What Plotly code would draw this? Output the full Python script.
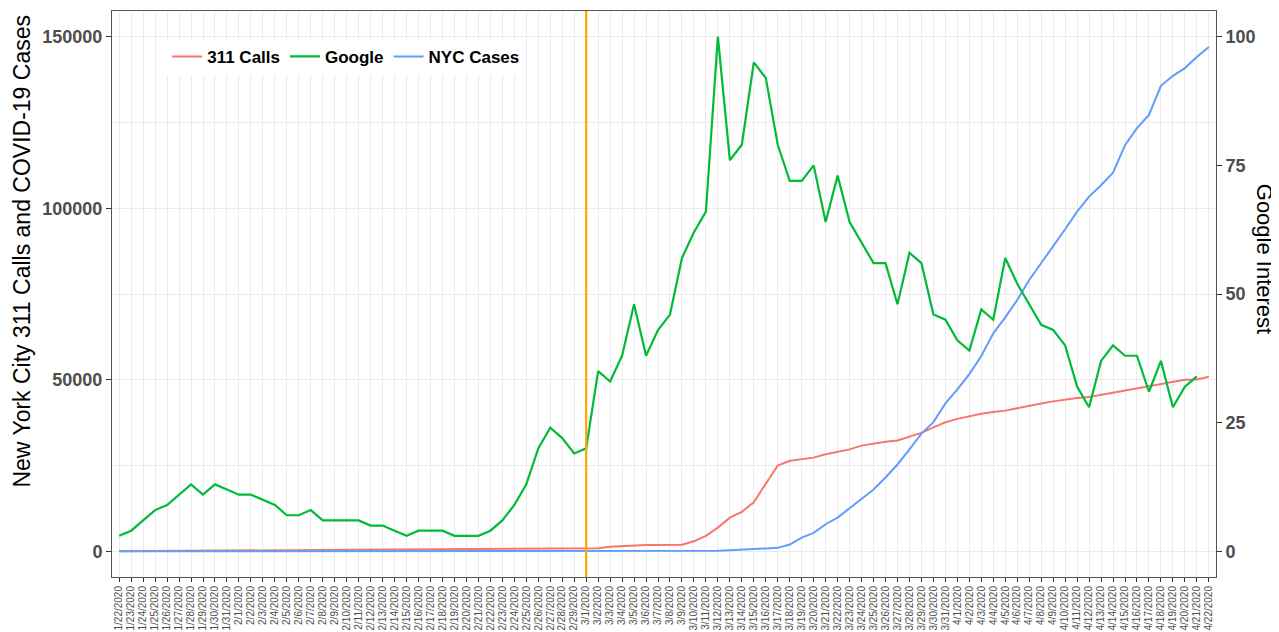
import plotly.graph_objects as go

# ---------------- data ----------------
dates = (
    [f"1/{d}/2020" for d in range(22, 32)]
    + [f"2/{d}/2020" for d in range(1, 30)]
    + [f"3/{d}/2020" for d in range(1, 32)]
    + [f"4/{d}/2020" for d in range(1, 23)]
)

calls_311 = [
    10, 30, 50, 70, 90, 120, 150, 170, 190, 220,
    250, 270, 300, 320, 340, 370, 390, 410, 430, 450,
    470, 480, 500, 520, 540, 560, 580, 600, 620, 640,
    650, 670, 690, 710, 730, 750, 770, 790, 800,
    820, 900, 1300, 1500, 1800, 1850, 1850, 1850, 1900, 2900,
    4500, 6900, 9800, 11500, 14300, 19700, 25000, 26400, 26800, 27300,
    28300, 29000, 29700, 30800, 31400, 31900, 32300, 33500, 34500, 36100,
    37600, 38600, 39400, 40100, 40600, 41000, 41700, 42500, 43100, 43700,
    44300, 44700, 45000, 45600, 46200, 46800, 47400, 48000, 48700, 49200,
    50000, 50100, 50900,
]

google = [
    3, 4, 6, 8, 9, 11, 13, 11, 13, 12,
    11, 11, 10, 9, 7, 7, 8, 6, 6, 6,
    6, 5, 5, 4, 3, 4, 4, 4, 3, 3,
    3, 4, 6, 9, 13, 20, 24, 22, 19, 20,
    35, 33, 38, 48, 38, 43, 46, 57, 62, 66,
    100, 76, 79, 95, 92, 79, 72, 72, 75, 64,
    73, 64, 60, 56, 56, 48, 58, 56, 46, 45,
    41, 39, 47, 45, 57, 52, 48, 44, 43, 40,
    32, 28, 37, 40, 38, 38, 31, 37, 28, 32,
    34, None,
]

nyc_cases = (
    [0] * 39
    + [1, 1, 2, 4, 6, 11, 19, 25, 36, 53,
       95, 154, 269, 463, 613, 923, 1000, 1950, 4000, 5350,
       7880, 9830, 12550, 15170, 18000, 21500, 25300, 29700, 34300, 37640,
       43100, 47180, 51650, 56900, 63520, 68190, 73240, 79080, 83950, 88800,
       93870, 99010, 103390, 106700, 110390, 118380, 123340, 127220, 135690, 138600,
       140850, 144060, 146980]
)

event_date = "3/1/2020"

left_ticks = [0, 50000, 100000, 150000]
left_minor = [25000, 75000, 125000]
right_ticks = [0, 25, 50, 75, 100]

# ---------------- figure ----------------
LEFT_MAX = 150000
RIGHT_MAX = 100
pad = 0.05 * LEFT_MAX
left_range = [-pad, LEFT_MAX + pad]
right_range = [v * RIGHT_MAX / LEFT_MAX for v in left_range]

FONT = "Liberation Sans, Arial, sans-serif"
GRID = "#EBEBEB"
TICKC = "#4D4D4D"

fig = go.Figure()
fig.add_trace(go.Scatter(x=dates, y=calls_311, name="311 Calls", mode="lines",
                         line=dict(color="#F8766D", width=2)))
fig.add_trace(go.Scatter(x=dates, y=google, name="Google", mode="lines", yaxis="y2",
                         line=dict(color="#00BA38", width=2.2)))
fig.add_trace(go.Scatter(x=dates, y=nyc_cases, name="NYC Cases", mode="lines",
                         line=dict(color="#619CFF", width=2)))

fig.add_shape(type="line", xref="x", yref="paper", x0=event_date, x1=event_date,
              y0=0, y1=1, line=dict(color="#FFA500", width=2.2), layer="above")

fig.update_layout(
    width=1271, height=624,
    margin=dict(l=104, r=63, t=3, b=55, autoexpand=False),
    paper_bgcolor="white", plot_bgcolor="white",
    font=dict(family=FONT, color="black"),
    showlegend=True,
    legend=dict(orientation="h", x=0.05, y=0.919, xanchor="left", yanchor="middle",
                bgcolor="white", font=dict(size=17, weight="bold", color="black"),
                itemwidth=30, tracegroupgap=0),
    xaxis=dict(
        type="category", categoryorder="array", categoryarray=dates,
        range=[-0.6, len(dates) - 1 + 0.6],
        tickmode="array", tickvals=dates, ticktext=dates,
        tickangle=-90, tickfont=dict(size=10, color=TICKC, family=FONT),
        ticks="outside", ticklen=4, tickcolor="#333333",
        showgrid=True, gridcolor=GRID, gridwidth=1,
        showline=True, mirror=True, linecolor="#555555", linewidth=1,
        zeroline=False, automargin=False,
    ),
    yaxis=dict(
        range=left_range, tickvals=left_ticks, tickformat="d",
        tickfont=dict(size=18, color=TICKC, weight="bold", family=FONT),
        ticks="outside", ticklen=5, tickcolor="#333333",
        showgrid=True, gridcolor=GRID, gridwidth=1,
        minor=dict(tickvals=left_minor, showgrid=True, gridcolor=GRID, gridwidth=0.6, ticks=""),
        showline=True, mirror=True, linecolor="#555555", linewidth=1,
        zeroline=False, automargin=False,
    ),
    yaxis2=dict(
        overlaying="y", side="right",
        range=right_range, tickvals=right_ticks,
        tickfont=dict(size=18, color=TICKC, weight="bold", family=FONT),
        ticks="outside", ticklen=5, tickcolor="#333333",
        showgrid=False, zeroline=False, showline=False, automargin=False,
    ),
    annotations=[
        dict(text="New York City 311 Calls and COVID-19 Cases", xref="paper", yref="paper",
             x=-0.0815, y=0.575, textangle=-90, showarrow=False,
             font=dict(size=23, color="black", family=FONT), xanchor="center", yanchor="middle"),
        dict(text="Google Interest", xref="paper", yref="paper",
             x=1.044, y=0.563, textangle=90, showarrow=False,
             font=dict(size=22, color="black", family=FONT), xanchor="center", yanchor="middle"),
    ],
)

fig.write_html("out.html")
